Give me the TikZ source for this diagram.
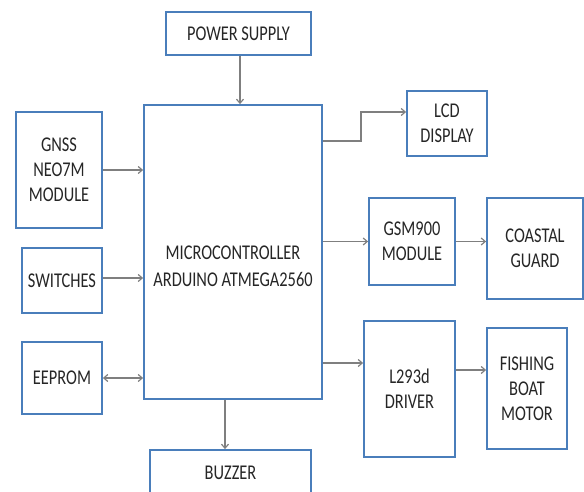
\documentclass[tikz,border=0pt]{standalone}
\usepackage{fontspec}
\setmainfont{Carlito}[FakeStretch=0.78]
\usetikzlibrary{arrows.meta}
\definecolor{boxblue}{HTML}{4A7EBB}
\definecolor{arrgray}{HTML}{7F7F7F}
\definecolor{txt}{HTML}{262626}
\begin{document}
\begin{tikzpicture}[x=1pt,y=-1pt,
  box/.style={draw=boxblue,line width=1.8pt,fill=white,align=center,text=txt,
    font=\fontsize{21}{25}\selectfont,inner sep=0pt},
  arr/.style={draw=arrgray,line width=1.2pt,-{Straight Barb[length=4pt,width=7pt]}},
  darr/.style={draw=arrgray,line width=1.2pt,{Straight Barb[length=4pt,width=7pt]}-{Straight Barb[length=4pt,width=7pt]}}]
\useasboundingbox (0,0) rectangle (584,492);
% boxes
\node[box,minimum width=145,minimum height=43] (power) at (238.5,33.5) {POWER SUPPLY};
\node[box,minimum width=178,minimum height=294] (mcu) at (233,252) {};
\node[align=center,text=txt,font=\fontsize{21}{27}\selectfont] (mcutext) at (233,266) {MICROCONTROLLER\\ARDUINO ATMEGA2560};
\node[box,minimum width=86,minimum height=116] (gnss) at (59,170) {GNSS\\NEO7M\\MODULE};
\node[box,minimum width=80,minimum height=65] (sw) at (62,280.5) {SWITCHES};
\node[box,minimum width=80,minimum height=72] (eeprom) at (62,378) {EEPROM};
\node[box,minimum width=161,minimum height=46] (buzzer) at (230.5,473) {BUZZER};
\node[box,minimum width=80,minimum height=65] (lcd) at (447,123.5) {LCD\\DISPLAY};
\node[box,minimum width=86,minimum height=87] (gsm) at (412,241.5) {GSM900\\MODULE};
\node[box,minimum width=96,minimum height=101] (coast) at (535,248.5) {COASTAL\\GUARD};
\node[box,minimum width=91,minimum height=136] (drv) at (409.5,389) {L293d\\DRIVER};
\node[box,minimum width=80,minimum height=121] (fish) at (527,388.5) {FISHING\\BOAT\\MOTOR};
% connectors
\draw[arr] ([xshift=1.5pt]power.south) -- ([xshift=1.5pt]power.south |- mcu.north);
\draw[arr] (gnss.east) -- (gnss.east -| mcu.west);
\draw[arr] ([yshift=2.5pt]sw.east) -- ([yshift=2.5pt]sw.east -| mcu.west);
\draw[darr] (eeprom.east) -- (eeprom.east -| mcu.west);
\draw[arr] ([xshift=-8pt]mcu.south) -- ([xshift=-8pt]mcu.south |- buzzer.north);
\coordinate (lcdbend) at (361,141);
\coordinate (lcdin) at (361,112);
\draw[arr] (mcu.east |- lcdbend) -- (lcdbend) -- (lcdin) -- (lcdin -| lcd.west);
\draw[arr] (gsm.west -| mcu.east) -- (gsm.west);
\draw[arr] (gsm.east) -- (gsm.east -| coast.west);
\draw[arr] (mcu.east |- 0,363) -- (drv.west |- 0,363);
\draw[arr] (drv.east |- 0,370) -- (fish.west |- 0,370);
\end{tikzpicture}
\end{document}
